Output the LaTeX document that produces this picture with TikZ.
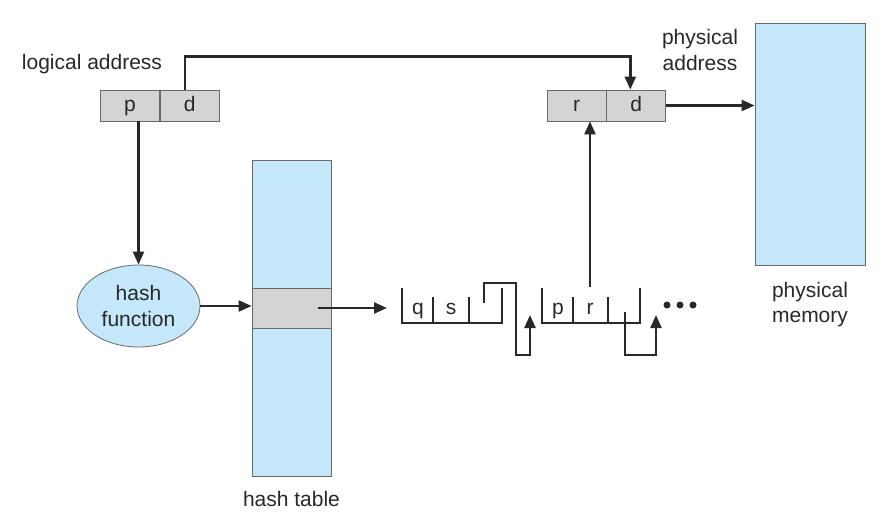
\documentclass[tikz,border=0pt]{standalone}
\usepackage{fontspec}
\setmainfont{Liberation Sans}
\usepackage{xcolor}
\usetikzlibrary{arrows.meta,positioning,calc,shapes.geometric}

\definecolor{memblue}{RGB}{196,232,250}
\definecolor{cellgray}{RGB}{212,212,212}
\definecolor{edgegray}{RGB}{105,105,105}
\definecolor{inkgray}{RGB}{40,40,40}

\begin{document}
\begin{tikzpicture}[
    x=0.5pt, y=-0.5pt,
    font=\fontsize{10.5}{12.6}\selectfont,
    text=inkgray,
    cell/.style={rectangle, draw=edgegray, fill=cellgray, minimum width=29.5pt, minimum height=15.5pt, inner sep=0pt, text height=1.5ex, text depth=0.3ex},
    entry/.style={inner sep=0pt, text height=1.5ex, text depth=0.3ex},
    mem/.style={rectangle, draw=edgegray, fill=memblue, inner sep=0pt},
    txt/.style={align=center, inner sep=0pt},
    link/.style={line width=1.2pt, draw=inkgray},
    arrow/.style={-{Triangle[length=6.5pt,width=5.5pt]}, line width=1.2pt, draw=inkgray}
]
\useasboundingbox (0,0) rectangle (896,525);

% Logical address
\node[cell] (lp) at (130,105.5) {p};
\node[cell, right=0pt of lp] (ld) {d};
\node[txt] (lname) at (92,64) {logical address};

% Physical address
\node[cell] (pr) at (576.5,105.5) {r};
\node[cell, right=0pt of pr] (pd) {d};
\node[txt] (pname) at (700,50) {physical\\address};

% Physical memory
\node[mem, minimum width=55pt, minimum height=121pt] (memory) at (810,144) {};
\node[txt, below=8pt of memory] (mname) {physical\\memory};

% Hash function and hash table
\node[ellipse, draw=edgegray, fill=memblue, minimum width=61.5pt, minimum height=41pt, txt] (hash) at (138.5,306) {hash\\function};
\node[mem, minimum width=39.5pt, minimum height=158pt] (table) at (291.5,318) {};
\node[mem, fill=cellgray, minimum width=39.5pt, minimum height=20pt] (slot) at (291.5,308) {};
\node[txt, below=7pt of table] (tname) {hash table};

% Chain entries
\draw[link] (402,288) -- (402,323) -- (502,323) -- (502,288);
\draw[link] (433,297) -- (433,323);
\draw[link] (469,297) -- (469,323);
\draw[link] (542,288) -- (542,323) -- (640,323) -- (640,288);
\draw[link] (573,297) -- (573,323);
\draw[link] (608,297) -- (608,323);
\node[entry] (eq) at (418,308) {q};
\node[entry] (es) at (451,308) {s};
\node[entry] (ep) at (558,308) {p};
\node[entry] (er) at (590,308) {r};
\coordinate (rtop) at (590,287);
\coordinate (chainin) at (387,308);
\coordinate (slotout) at (318,308);
\foreach \dx in {667,680,693}
  \fill[inkgray] (\dx,305) circle (3.5);

% Arrows
\draw[arrow] ([xshift=-2.5pt]ld.north) -- ++(0,-33) -| ([xshift=-3pt]pd.north);
\draw[arrow] (hash.north |- lp.south) -- (hash.north);
\draw[arrow] (hash.east) -- (hash.east -| table.west);
\draw[arrow] (slotout) -- (chainin);
\draw[arrow] (rtop) -- (rtop |- pr.south);
\draw[arrow] (pd.east) -- (pd.east -| memory.west);
\draw[arrow] (484,303) -- (484,283) -- (516,283) -- (516,355) -- (530,355) -- (530,315);
\draw[arrow] (625,312) -- (625,355) -- (656,355) -- (656,315);

\end{tikzpicture}
\end{document}
